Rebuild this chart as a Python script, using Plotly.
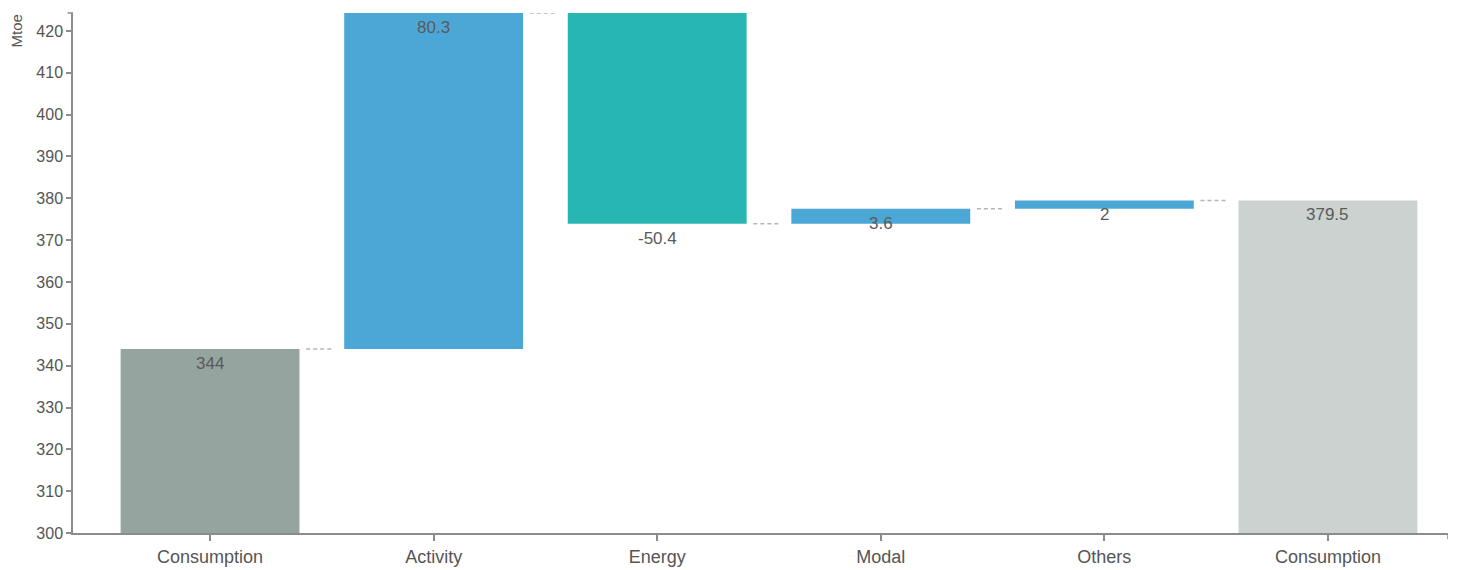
import plotly.graph_objects as go

categories = ["Consumption<br>2000", "Activity", "Energy<br>savings", "Modal<br>shift", "Others", "Consumption<br>2015"]
values = [344, 80.3, -50.4, 3.6, 2, 379.5]
measures = ["total", "relative", "relative", "relative", "relative", "total"]
bar_colors = ["#95A49E", "#4BA8D6", "#27B6B2", "#4BA8D6", "#4BA8D6", "#CBD2CF"]
y_ticks = [300, 310, 320, 330, 340, 350, 360, 370, 380, 390, 400, 410, 420]

# cumulative bases
bases, tops, ends = [], [], []
running = 0
for v, m in zip(values, measures):
    if m == "total":
        bases.append(0)
        tops.append(v)
        running = v
    else:
        bases.append(running)
        tops.append(v)
        running = running + v
    ends.append(running)

ymax = max(max(b + t for b, t in zip(bases, tops)), max(ends))
xs = list(range(len(categories)))

fig = go.Figure()
fig.add_trace(go.Bar(
    x=xs, y=tops, base=bases, width=0.8,
    marker=dict(color=bar_colors, line=dict(width=0)),
    hoverinfo="skip", showlegend=False,
))

# connectors
for i in range(len(categories) - 1):
    fig.add_trace(go.Scatter(
        x=[i + 0.43, i + 0.555], y=[ends[i], ends[i]], mode="lines",
        line=dict(color="#b5b5b5", width=1.5, dash="4px,3px"),
        hoverinfo="skip", showlegend=False,
    ))

# value labels
for i, v in enumerate(values):
    fig.add_annotation(
        x=i, y=ends[i], text=f"{v:g}", showarrow=False,
        yanchor="top", yshift=-3,
        font=dict(family="Liberation Sans, Arial", size=17, color="#5a5a5a"),
    )

axis_color = "#8c8c8c"
fig.update_layout(
    width=1472, height=570,
    margin=dict(l=73, r=24, t=13, b=37, autoexpand=False),
    plot_bgcolor="white", paper_bgcolor="white",
    bargap=0.2,
    font=dict(family="Liberation Sans, Arial", color="#555555"),
    xaxis=dict(
        range=[-0.613, 5.537], tickmode="array", tickvals=xs, ticktext=categories,
        showgrid=False, zeroline=False, showline=True, linecolor=axis_color, linewidth=2,
        ticks="outside", ticklen=6, tickcolor=axis_color, tickwidth=1.5,
        tickfont=dict(size=18, color="#555555"), automargin=False,
    ),
    yaxis=dict(
        range=[300, ymax], tickmode="array", tickvals=y_ticks,
        showgrid=False, zeroline=False, showline=True, linecolor=axis_color, linewidth=1.5,
        ticks="outside", ticklen=5, tickcolor=axis_color, tickwidth=1.5,
        tickfont=dict(size=16, color="#555555"), automargin=False,
    ),
)

# outer ticks (domain ends)
fig.add_shape(type="line", xref="x", yref="paper", x0=5.537, x1=5.537, y0=0, y1=-0.012,
              line=dict(color=axis_color, width=1.5))
fig.add_shape(type="line", xref="paper", yref="paper", x0=-0.004, x1=0, y0=1, y1=1,
              line=dict(color=axis_color, width=1.5))

fig.add_annotation(
    text="Mtoe", xref="paper", yref="paper", x=0, y=1, xshift=-57,
    xanchor="center", yanchor="top", textangle=-90, showarrow=False,
    font=dict(family="Liberation Sans, Arial", size=15, color="#555555"),
)

fig.write_html("out.html")
